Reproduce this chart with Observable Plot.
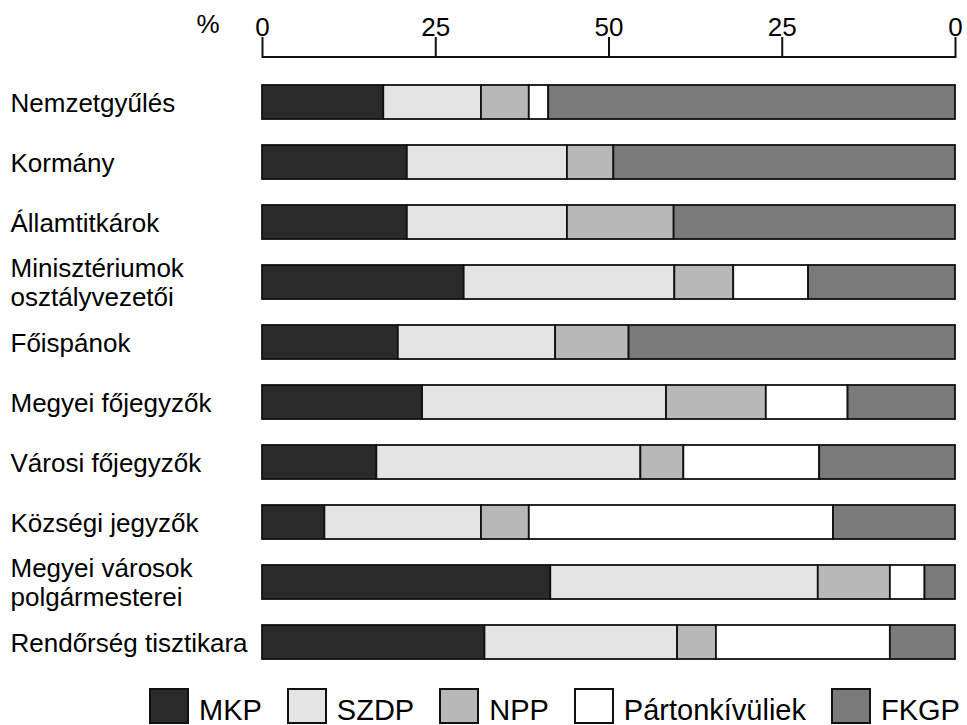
<!DOCTYPE html>
<html>
<head>
<meta charset="utf-8">
<script src="https://cdn.jsdelivr.net/npm/d3@7"></script>
<script src="https://cdn.jsdelivr.net/npm/@observablehq/plot@0.6"></script>
<style>
  html, body { margin: 0; padding: 0; background: #fff; }
  body { width: 967px; height: 725px; overflow: hidden; font-family: "Liberation Sans", Arial, sans-serif; }
  #legend { display: flex; align-items: center; box-sizing: border-box; height: 55px; padding-top: 16px; padding-left: 149px; font-size: 29px; color: #000; }
  .item { display: flex; align-items: center; margin-right: 25px; }
  .sw { width: 36px; height: 32px; border: 2px solid #111; margin-right: 10px; }
  .lbl { position: relative; top: 5px; line-height: 1; white-space: nowrap; }
</style>
</head>
<body>
<div id="chart"></div>
<div id="legend"></div>
<script>
const categories = [
  "Nemzetgyűlés",
  "Kormány",
  "Államtitkárok",
  "Minisztériumok\nosztályvezetői",
  "Főispánok",
  "Megyei főjegyzők",
  "Városi főjegyzők",
  "Községi jegyzők",
  "Megyei városok\npolgármesterei",
  "Rendőrség tisztikara"
];
const parties = ["MKP", "SZDP", "NPP", "Pártonkívüliek", "FKGP"];
const colors = ["#2a2a2a", "#e4e4e4", "#b8b8b8", "#ffffff", "#7a7a7a"];

const MKP    = [17.5, 20.9, 20.9, 29.1, 19.6, 23.1, 16.5,  9.0, 41.6, 32.1];
const SZDP   = [14.1, 23.1, 23.1, 30.4, 22.7, 35.2, 38.1, 22.6, 38.6, 27.8];
const NPP    = [ 6.9,  6.7, 15.4,  8.5, 10.6, 14.4,  6.2,  6.9, 10.4,  5.6];
const PARTON = [ 2.8,  0.0,  0.0, 10.8,  0.0, 11.8, 19.6, 43.9,  5.0, 25.1];
const FKGP   = [58.7, 49.3, 40.6, 21.2, 47.1, 15.5, 19.6, 17.6,  4.4,  9.4];

const tickValues = [0, 25, 50, 75, 100];
const tickLabels = ["0", "25", "50", "25", "0"];

const series = [MKP, SZDP, NPP, PARTON, FKGP];
const data = [];
categories.forEach((cat, i) => {
  parties.forEach((p, j) => {
    const v = series[j][i];
    if (v > 0) data.push({cat, party: p, value: v});
  });
});

const axisLine = (index, scales, values, dimensions) => {
  const g = d3.create("svg:line")
    .attr("x1", scales.x(0))
    .attr("x2", scales.x(100))
    .attr("y1", dimensions.marginTop)
    .attr("y2", dimensions.marginTop)
    .attr("stroke", "#111")
    .attr("stroke-width", 2);
  return g.node();
};

const chart = Plot.plot({
  width: 967,
  height: 670,
  marginLeft: 262,
  marginRight: 12,
  marginTop: 57,
  marginBottom: 4,
  style: {fontFamily: "'Liberation Sans', Arial, sans-serif", fontSize: "26px", background: "#fff", color: "#000", overflow: "visible"},
  x: {domain: [0, 100], axis: null},
  y: {domain: categories, paddingInner: 0.43, paddingOuter: 0.1, insetTop: 22, axis: null},
  color: {domain: parties, range: colors},
  marks: [
    Plot.barX(data, {x: "value", y: "cat", fill: "party", stroke: "#111", strokeWidth: 1.8}),
    Plot.axisX(tickValues, {
      anchor: "top",
      label: null,
      tickSize: 21,
      tickPadding: 1,
      strokeWidth: 2,
      stroke: "#111",
      fontSize: 26,
      tickFormat: (d) => tickLabels[tickValues.indexOf(d)]
    }),
    axisLine,
    Plot.text(categories, {y: (d) => d, text: (d) => d, frameAnchor: "left", dx: -252, textAnchor: "start", fontSize: 26, lineHeight: 1.1, fill: "#000"}),
    Plot.text(["%"], {frameAnchor: "top-left", dx: -66, dy: -43, fontSize: 26, fill: "#000"})
  ]
});
document.getElementById("chart").appendChild(chart);

const legend = document.getElementById("legend");
parties.forEach((p, i) => {
  const item = document.createElement("div");
  item.className = "item";
  const sw = document.createElement("div");
  sw.className = "sw";
  sw.style.background = colors[i];
  const lbl = document.createElement("span");
  lbl.className = "lbl";
  lbl.textContent = p;
  item.appendChild(sw);
  item.appendChild(lbl);
  legend.appendChild(item);
});
</script>
</body>
</html>
